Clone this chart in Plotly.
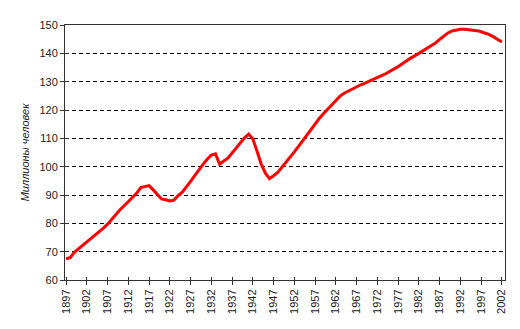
import plotly.graph_objects as go

years = list(range(1897, 2003))
population = [
    67.5, 67.9, 69.8, 71.0, 72.2, 73.3, 74.4, 75.6, 76.9, 78.3,   # 1897-1906
    79.7, 81.5, 83.3, 84.8, 86.2, 87.6, 89.0, 90.6, 92.6, 93.0,   # 1907-1916
    93.3, 91.8, 90.0, 88.6, 88.3, 87.9, 88.2, 89.8, 91.0, 92.7,   # 1917-1926
    94.8, 96.8, 98.9, 100.8, 102.6, 104.1, 104.5, 100.9, 102.0, 103.0,  # 1927-1936
    104.8, 106.6, 108.6, 110.2, 111.5, 109.8, 105.5, 101.0, 97.8, 95.8,  # 1937-1946
    96.8, 98.0, 99.8, 101.5, 103.3, 105.2, 107.2, 109.2, 111.2, 113.3,  # 1947-1956
    115.2, 117.0, 118.7, 120.3, 121.9, 123.5, 124.9, 125.9, 126.7, 127.5,  # 1957-1966
    128.2, 128.9, 129.5, 130.1, 130.7, 131.4, 132.1, 132.8, 133.6, 134.4,  # 1967-1976
    135.3, 136.3, 137.4, 138.3, 139.1, 140.0, 140.9, 141.9, 143.0, 143.6,  # 1977-1986
    144.9, 146.2, 147.2, 147.9, 148.3, 148.5, 148.5, 148.4, 148.2, 148.0,  # 1987-1996
    147.6, 147.2, 146.6, 145.8, 145.0, 144.0,  # 1997-2002
]
x_ticks = list(range(1897, 2003, 5))
y_ticks = list(range(60, 151, 10))
y_title = "Миллионы человек"

x_range = [1896.75, 2002.75]
y_range = [60, 150]
axis_col = "#333333"

fig = go.Figure()
fig.add_trace(go.Scatter(
    x=years, y=population, mode="lines",
    line=dict(color="#FF0000", width=3),
    hoverinfo="skip", showlegend=False,
))
# invisible trace so the overlay axes (inner half of the cross ticks) are drawn
fig.add_trace(go.Scatter(
    x=[years[0]], y=[population[0]], xaxis="x2", yaxis="y2",
    mode="markers", marker=dict(opacity=0), hoverinfo="skip", showlegend=False,
))

# page body has an 8px default margin, so the margins are shifted by 8px
fig.update_layout(
    width=520, height=329,
    margin=dict(l=57, r=23, t=17, b=57, autoexpand=False),
    paper_bgcolor="white", plot_bgcolor="white",
    font=dict(family="Liberation Sans, Arial, sans-serif", size=11, color="#222222"),
    xaxis=dict(
        range=x_range, automargin=False,
        tickvals=x_ticks, ticktext=[str(v) for v in x_ticks],
        tickangle=-90, ticks="outside", ticklen=4, tickcolor=axis_col,
        showline=True, linecolor=axis_col, linewidth=1, mirror=True,
        showgrid=False, zeroline=False, tickfont=dict(size=11),
    ),
    yaxis=dict(
        range=y_range, automargin=False, tickvals=y_ticks,
        ticks="outside", ticklen=4, tickcolor=axis_col,
        showline=True, linecolor=axis_col, linewidth=1, mirror=True,
        showgrid=True, gridcolor="black", gridwidth=1, griddash="4px,3px",
        zeroline=False,
        title=dict(text="<i>" + y_title + "</i>", font=dict(size=11), standoff=7),
        tickfont=dict(size=11),
    ),
    xaxis2=dict(
        range=x_range, overlaying="x", side="bottom", anchor="y2",
        tickvals=x_ticks, ticks="inside", ticklen=3, tickcolor=axis_col,
        showticklabels=False, showgrid=False, zeroline=False, showline=False,
    ),
    yaxis2=dict(
        range=y_range, overlaying="y", side="left", anchor="x2",
        tickvals=y_ticks, ticks="inside", ticklen=3, tickcolor=axis_col,
        showticklabels=False, showgrid=False, zeroline=False, showline=False,
    ),
)

fig.write_html("out.html")
